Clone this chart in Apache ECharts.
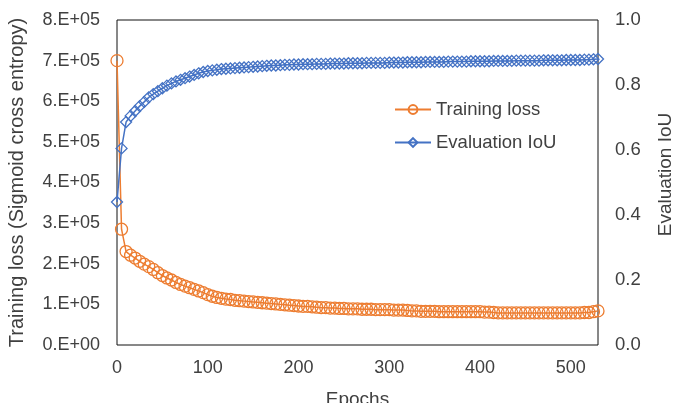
<!DOCTYPE html>
<html>
<head>
<meta charset="utf-8">
<script src="https://cdn.jsdelivr.net/npm/echarts@6/dist/echarts.min.js"></script>
<style>
    html, body { margin: 0; padding: 0; background: #fff; }
    #main { width: 680px; height: 403px; }
</style>
</head>
<body>
<div id="main"></div>
<script>
var epochs = [0, 5, 10, 15, 20, 25, 30, 35, 40, 45, 50, 55, 60, 65, 70, 75, 80, 85, 90, 95,
    100, 105, 110, 115, 120, 125, 130, 135, 140, 145, 150, 155, 160, 165, 170, 175, 180, 185, 190, 195,
    200, 205, 210, 215, 220, 225, 230, 235, 240, 245, 250, 255, 260, 265, 270, 275, 280, 285, 290, 295,
    300, 305, 310, 315, 320, 325, 330, 335, 340, 345, 350, 355, 360, 365, 370, 375, 380, 385, 390, 395,
    400, 405, 410, 415, 420, 425, 430, 435, 440, 445, 450, 455, 460, 465, 470, 475, 480, 485, 490, 495,
    500, 505, 510, 515, 520, 525, 530];

var trainingLoss = [700000, 285000, 230000, 221000, 214000, 206000, 199000, 193000, 186000, 178000,
    171000, 165000, 160000, 154000, 149000, 145000, 141000, 137000, 133000, 129000,
    124000, 120000, 117000, 115000, 113000, 112000, 110000, 109000, 108000, 107000,
    106000, 105000, 104000, 103000, 102000, 101000, 100000, 99000, 98000, 97000,
    96000, 95000, 95000, 94000, 93000, 92000, 92000, 91000, 91000, 90000,
    90000, 89000, 89000, 89000, 88000, 88000, 88000, 87000, 87000, 87000,
    87000, 86000, 86000, 86000, 85000, 84000, 84000, 83000, 83000, 83000,
    83000, 82000, 82000, 82000, 82000, 82000, 82000, 82000, 82000, 82000,
    82000, 81000, 81000, 80000, 79000, 79000, 79000, 79000, 79000, 79000,
    79000, 79000, 79000, 79000, 79000, 79000, 79000, 79000, 79000, 79000,
    79000, 79000, 79000, 80000, 80000, 82000, 84000];

var evalIoU = [0.44, 0.605, 0.686, 0.705, 0.72, 0.735, 0.748, 0.762, 0.772, 0.781,
    0.79, 0.798, 0.805, 0.811, 0.816, 0.821, 0.826, 0.831, 0.836, 0.84,
    0.843, 0.845, 0.847, 0.849, 0.85, 0.851, 0.852, 0.853, 0.854, 0.855,
    0.856, 0.857, 0.858, 0.859, 0.86, 0.86, 0.861, 0.862, 0.862, 0.863,
    0.863, 0.864, 0.864, 0.864, 0.865, 0.865, 0.865, 0.866, 0.866, 0.866,
    0.866, 0.867, 0.867, 0.867, 0.867, 0.868, 0.868, 0.868, 0.868, 0.868,
    0.869, 0.869, 0.869, 0.869, 0.870, 0.870, 0.870, 0.870, 0.871, 0.871,
    0.871, 0.871, 0.871, 0.872, 0.872, 0.872, 0.872, 0.872, 0.873, 0.873,
    0.873, 0.873, 0.873, 0.874, 0.874, 0.874, 0.874, 0.874, 0.875, 0.875,
    0.875, 0.875, 0.875, 0.875, 0.876, 0.876, 0.876, 0.876, 0.876, 0.877,
    0.877, 0.877, 0.877, 0.878, 0.878, 0.879, 0.88];

var lossTicks = ['0.E+00', '1.E+05', '2.E+05', '3.E+05', '4.E+05', '5.E+05', '6.E+05', '7.E+05', '8.E+05'];

var FONT = 'Liberation Sans, Arial, sans-serif';
var TEXT = '#404040';
var ORANGE = '#ED7D31';
var BLUE = '#4472C4';

function pairs(xs, ys) {
    var out = [];
    for (var i = 0; i < xs.length; i++) {
        out.push([xs[i], ys[i]]);
    }
    return out;
}

var chart = echarts.init(document.getElementById('main'));
var option = {
    animation: false,
    backgroundColor: '#fff',
    textStyle: { fontFamily: FONT, color: TEXT },
    grid: {
        left: 117, right: 82, top: 20, bottom: 58,
        outerBoundsMode: 'none',
        show: true, borderColor: '#111', borderWidth: 1
    },
    legend: {
        orient: 'vertical',
        left: 389, top: 95,
        itemWidth: 36, itemHeight: 11, itemGap: 14,
        textStyle: { fontFamily: FONT, fontSize: 18.5, color: TEXT },
        data: ['Training loss', 'Evaluation IoU']
    },
    xAxis: {
        type: 'value',
        min: 0, max: 530, interval: 100,
        name: 'Epochs', nameLocation: 'middle', nameGap: 45,
        nameTextStyle: { fontFamily: FONT, fontSize: 19, color: TEXT },
        axisLine: { show: false },
        axisTick: { show: false },
        splitLine: { show: false },
        axisLabel: {
            fontFamily: FONT, fontSize: 18, color: TEXT, margin: 14,
            formatter: function (v) { return v % 100 === 0 ? String(v) : ''; }
        }
    },
    yAxis: [{
        type: 'value',
        min: 0, max: 800000, interval: 100000,
        name: 'Training loss (Sigmoid cross entropy)', nameLocation: 'middle', nameGap: 90, nameRotate: 90,
        nameTextStyle: { fontFamily: FONT, fontSize: 20, color: TEXT },
        axisLine: { show: false },
        axisTick: { show: false },
        splitLine: { show: false },
        axisLabel: {
            fontFamily: FONT, fontSize: 18, color: TEXT, margin: 17,
            formatter: function (v) { return lossTicks[Math.round(v / 100000)]; }
        }
    }, {
        type: 'value',
        min: 0, max: 1, interval: 0.2,
        name: 'Evaluation IoU', nameLocation: 'middle', nameGap: 58, nameRotate: 90,
        nameTextStyle: { fontFamily: FONT, fontSize: 19, color: TEXT, padding: [0, 0, 0, 16] },
        axisLine: { show: false },
        axisTick: { show: false },
        splitLine: { show: false },
        axisLabel: {
            fontFamily: FONT, fontSize: 18.5, color: TEXT, margin: 17,
            formatter: function (v) { return v.toFixed(1); }
        }
    }],
    series: [{
        name: 'Training loss',
        type: 'line',
        yAxisIndex: 0,
        data: pairs(epochs, trainingLoss),
        symbol: 'circle', symbolSize: 12,
        showAllSymbol: true,
        lineStyle: { width: 1.5, color: ORANGE },
        itemStyle: { color: 'rgba(255,255,255,0)', borderColor: ORANGE, borderWidth: 1.3 },
        z: 2
    }, {
        name: 'Evaluation IoU',
        type: 'line',
        yAxisIndex: 1,
        data: pairs(epochs, evalIoU),
        symbol: 'diamond', symbolSize: 11,
        showAllSymbol: true,
        lineStyle: { width: 1.5, color: BLUE },
        itemStyle: { color: 'rgba(255,255,255,0)', borderColor: BLUE, borderWidth: 1.3 },
        z: 3
    }]
};
chart.setOption(option);
</script>
</body>
</html>
